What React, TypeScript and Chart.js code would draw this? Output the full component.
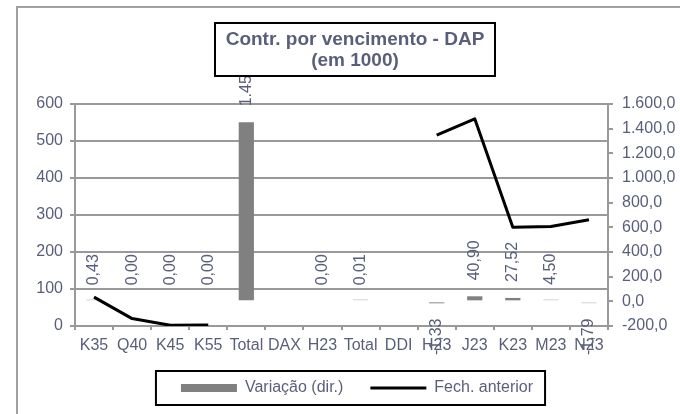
import React, { useEffect, useRef } from 'react';
import { Chart, registerables } from 'chart.js';

Chart.register(...registerables);

const categories = ['K35', 'Q40', 'K45', 'K55', 'Total', 'DAX', 'H23', 'Total', 'DDI', 'H23', 'J23', 'K23', 'M23', 'N23'];
const variacao: (number | null)[] = [0.43, 0, 0, 0, 1451.45, null, 0, 0.01, null, -1.33, 40.9, 27.52, 4.5, -1.79];
const fechAnterior: (number | null)[] = [78, 20, 2, 3, null, null, null, null, null, 516, 560, 267, 269, 287];
const barColors = ['#d4d4d4', 'rgba(0,0,0,0)', 'rgba(0,0,0,0)', 'rgba(0,0,0,0)', '#808080', 'rgba(0,0,0,0)', 'rgba(0,0,0,0)', '#d4d4d4', 'rgba(0,0,0,0)', '#8c8c8c', '#808080', '#808080', '#d4d4d4', '#d4d4d4'];
const titleLines = ['Contr. por vencimento - DAP', '(em 1000)'];
const seriesNames = ['Variação (dir.)', 'Fech. anterior'];

const FONT = '"Liberation Sans", Arial, sans-serif';
const TEXT = '#595f7a';
const GRID = '#999999';

function fmt(v: number, d: number): string {
  const s = Math.abs(v).toFixed(d);
  const parts = s.split('.');
  const i = parts[0].replace(/\B(?=(\d{3})+(?!\d))/g, '.');
  return (v < 0 ? '-' : '') + i + (parts[1] ? ',' + parts[1] : '');
}

const barLabelPlugin = {
  id: 'barLabels',
  afterDatasetsDraw(chart: any) {
    const meta = chart.getDatasetMeta(0);
    const ys = chart.scales.y1;
    const ctx = chart.ctx;
    ctx.save();
    ctx.font = '16px ' + FONT;
    ctx.fillStyle = TEXT;
    ctx.textBaseline = 'middle';
    meta.data.forEach((el: any, i: number) => {
      const v = variacao[i];
      if (v === null || v === undefined) return;
      const py = ys.getPixelForValue(v);
      ctx.save();
      if (v >= 0) {
        ctx.translate(el.x, py - 16);
        ctx.rotate(-Math.PI / 2);
        ctx.textAlign = 'left';
      } else {
        ctx.translate(el.x, py + 17);
        ctx.rotate(-Math.PI / 2);
        ctx.textAlign = 'right';
      }
      ctx.fillText(fmt(v, 2), 0, 0);
      ctx.restore();
    });
    ctx.restore();
  },
};

const framePlugin = {
  id: 'frame',
  afterDraw(chart: any) {
    const ctx = chart.ctx;
    ctx.save();
    // outer border
    ctx.strokeStyle = '#a0a0a0';
    ctx.lineWidth = 2;
    ctx.strokeRect(17, 7, 720, 460);
    // title box
    ctx.fillStyle = '#ffffff';
    ctx.fillRect(215, 23, 280, 53);
    ctx.strokeStyle = '#000000';
    ctx.lineWidth = 2;
    ctx.strokeRect(215, 23, 280, 53);
    ctx.fillStyle = TEXT;
    ctx.font = 'bold 19px ' + FONT;
    ctx.textAlign = 'center';
    ctx.textBaseline = 'alphabetic';
    ctx.fillText(titleLines[0], 355, 45);
    ctx.fillText(titleLines[1], 355, 66);
    // legend box
    const hb = chart.legend && chart.legend.legendHitBoxes;
    if (hb && hb.length) {
      const first = hb[0];
      const last = hb[hb.length - 1];
      const left = first.left - 25;
      const right = last.left + last.width + 12;
      const top = first.top - 9;
      const bottom = first.top + first.height + 9;
      ctx.strokeStyle = '#000000';
      ctx.lineWidth = 2;
      ctx.strokeRect(left, top, right - left, bottom - top);
    }
    ctx.restore();
  },
};

export default function App() {
  const ref = useRef<HTMLCanvasElement | null>(null);

  useEffect(() => {
    if (!ref.current) return;
    Chart.defaults.font.family = FONT;
    const chart = new Chart(ref.current, {
      type: 'bar',
      data: {
        labels: categories,
        datasets: [
          {
            type: 'bar',
            label: seriesNames[0],
            data: variacao as any,
            yAxisID: 'y1',
            backgroundColor: barColors,
            borderWidth: 0,
            barPercentage: 0.4,
            categoryPercentage: 1,
            minBarLength: 2,
            order: 2,
          },
          {
            type: 'line',
            label: seriesNames[1],
            data: fechAnterior as any,
            yAxisID: 'y',
            borderColor: '#000000',
            borderWidth: 3,
            pointRadius: 0,
            tension: 0,
            spanGaps: false,
            borderJoinStyle: 'round',
            order: 1,
          } as any,
        ],
      },
      options: {
        responsive: false,
        animation: false,
        devicePixelRatio: 1,
        layout: { padding: { left: 34, top: 104, right: 0, bottom: 8 } },
        plugins: {
          tooltip: { enabled: false },
          title: { display: false },
          legend: {
            position: 'bottom',
            labels: {
              usePointStyle: true,
              pointStyleWidth: 56,
              boxHeight: 8,
              padding: 27,
              color: TEXT,
              font: { size: 16, family: FONT },
              generateLabels: () => [
                { text: seriesNames[0], fillStyle: '#808080', strokeStyle: '#808080', lineWidth: 0, pointStyle: 'rect', datasetIndex: 0, hidden: false, fontColor: TEXT } as any,
                { text: seriesNames[1], fillStyle: '#000000', strokeStyle: '#000000', lineWidth: 3, pointStyle: 'line', datasetIndex: 1, hidden: false, fontColor: TEXT } as any,
              ],
            },
          },
        },
        scales: {
          x: {
            type: 'category',
            offset: true,
            grid: { drawOnChartArea: false, drawTicks: true, tickLength: 4, color: GRID, lineWidth: 2, offset: true },
            border: { display: true, color: GRID, width: 2 },
            ticks: { color: TEXT, font: { size: 16 }, padding: 6, maxRotation: 0, minRotation: 0, autoSkip: false },
            afterFit: (s: any) => { s.height = 27; },
          },
          y: {
            position: 'left',
            min: 0,
            max: 600,
            ticks: { stepSize: 100, color: TEXT, font: { size: 16 }, padding: 7 },
            grid: { color: GRID, lineWidth: 2, tickLength: 5, drawTicks: true },
            border: { display: true, color: GRID, width: 2 },
            afterFit: (s: any) => { s.width = 41; },
          },
          y1: {
            position: 'right',
            min: -200,
            max: 1600,
            ticks: { stepSize: 200, color: TEXT, font: { size: 16 }, padding: 9, callback: (v: any) => fmt(Number(v), 1) },
            grid: { drawOnChartArea: false, drawTicks: true, tickLength: 5, color: GRID, lineWidth: 2 },
            border: { display: true, color: GRID, width: 2 },
            afterFit: (s: any) => { s.width = 72; },
          },
        },
      } as any,
      plugins: [barLabelPlugin, framePlugin],
    });
    return () => chart.destroy();
  }, []);

  return (
    <div style={{ position: 'absolute', left: 0, top: 0, width: 680, height: 414, background: '#ffffff' }}>
      <canvas ref={ref} width={680} height={414} style={{ display: 'block', width: 680, height: 414 }} />
    </div>
  );
}
